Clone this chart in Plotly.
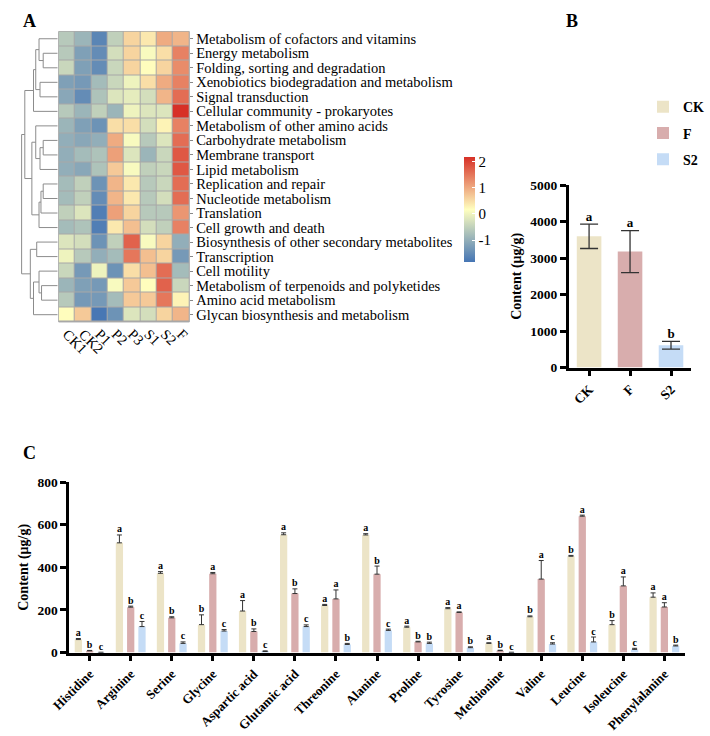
import plotly.graph_objects as go

W, H = 710, 736
SERIF = "Liberation Serif, Times New Roman, serif"

# ---------------- Panel A data ----------------
pathways = [
    "Metabolism of cofactors and vitamins",
    "Energy metabolism",
    "Folding, sorting and degradation",
    "Xenobiotics biodegradation and metabolism",
    "Signal transduction",
    "Cellular community - prokaryotes",
    "Metabolism of other amino acids",
    "Carbohydrate metabolism",
    "Membrane transport",
    "Lipid metabolism",
    "Replication and repair",
    "Nucleotide metabolism",
    "Translation",
    "Cell growth and death",
    "Biosynthesis of other secondary metabolites",
    "Transcription",
    "Cell motility",
    "Metabolism of terpenoids and polyketides",
    "Amino acid metabolism",
    "Glycan biosynthesis and metabolism",
]
samples = ["CK1", "CK2", "P1", "P2", "P3", "S1", "S2", "F"]
heat = [
    [-0.6, -0.9, -1.6, -0.5, 0.6, 0.4, 1.0, 0.9],
    [-0.6, -1.2, -1.5, -0.3, 0.6, 0.1, 0.5, 1.4],
    [-0.4, -1.2, -1.5, -0.4, 0.6, 0.2, 0.6, 1.3],
    [-1.2, -1.3, -0.8, -0.4, 0.0, 0.5, 1.0, 1.4],
    [-1.1, -1.5, -0.7, -0.2, -0.1, -0.3, 0.9, 1.6],
    [-0.6, -0.9, -0.5, -0.9, 0.0, -0.2, -0.2, 2.2],
    [-0.9, -1.2, -1.4, 0.5, 0.5, -0.3, 0.3, 1.4],
    [-1.0, -1.1, -1.0, 1.0, 0.1, -0.6, -0.2, 1.6],
    [-1.0, -0.8, -0.7, 1.1, -0.2, -0.9, -0.4, 1.8],
    [-1.0, -1.1, -0.7, 0.7, 0.1, -0.5, -0.4, 1.8],
    [-0.8, -0.5, -1.4, 0.9, 0.4, -0.6, -0.4, 1.6],
    [-0.8, -0.5, -1.5, 0.9, 0.4, -0.6, -0.3, 1.6],
    [-0.5, -0.2, -1.7, 1.1, 0.6, -0.6, -0.6, 1.2],
    [-0.8, -0.7, -1.7, 0.4, 0.8, -0.3, -0.5, 1.4],
    [-0.2, -0.3, -1.4, -0.5, 1.7, 0.1, 0.6, -1.0],
    [0.0, -0.6, -1.0, -0.8, 1.5, 0.8, 0.6, -1.3],
    [-0.4, -1.3, 0.0, -1.4, 0.5, 0.8, 1.6, -0.8],
    [-0.9, -1.2, -1.3, 0.1, 0.7, 0.2, 1.7, -0.4],
    [-0.6, -1.3, -1.3, -0.8, 0.7, 0.7, 1.5, 0.3],
    [0.2, 0.7, -1.8, -1.4, -0.2, -0.3, 0.6, 0.9],
]
colorbar_ticks = [-1, 0, 1, 2]
# row dendrogram: (child_a, child_b, merge height); nodes >= 20 are earlier merges
merges = [
    (1, 2, 15.0), (0, 20, 19.3), (3, 4, 18.3), (21, 22, 22.7), (23, 5, 25.0),
    (7, 8, 15.0), (25, 9, 18.3), (6, 26, 22.7), (10, 11, 15.0), (28, 12, 17.3),
    (29, 13, 19.3), (27, 30, 26.7), (24, 31, 34.0),
    (14, 15, 21.7), (17, 18, 16.7), (16, 34, 19.3), (35, 19, 25.0), (33, 36, 28.3),
    (32, 37, 37.3),
]

# ---------------- Panel B data ----------------
b_groups = ["CK", "F", "S2"]
b_mean = [3600, 3180, 610]
b_err = [335, 575, 105]
b_letters = ["a", "a", "b"]
b_ticks = [0, 1000, 2000, 3000, 4000, 5000]

# ---------------- Panel C data ----------------
amino = ["Histidine", "Arginine", "Serine", "Glycine", "Aspartic acid", "Glutamic acid",
         "Threonine", "Alanine", "Proline", "Tyrosine", "Methionine", "Valine",
         "Leucine", "Isoleucine", "Phenylalanine"]
ck_mean = [61, 515, 372, 131, 195, 553, 221, 552, 119, 206, 43, 168, 452, 131, 260]
ck_err = [5, 37, 8, 46, 49, 9, 5, 6, 5, 5, 3, 4, 4, 19, 20]
f_mean = [8, 213, 163, 370, 99, 277, 252, 368, 50, 188, 9, 345, 640, 313, 214]
f_err = [2, 5, 5, 6, 12, 22, 42, 38, 3, 3, 2, 87, 5, 42, 20]
s2_mean = [1, 122, 43, 101, 5, 122, 38, 104, 43, 23, 1, 40, 50, 15, 31]
s2_err = [0, 24, 7, 7, 3, 8, 5, 6, 6, 4, 0, 6, 23, 5, 4]
ck_let = ["a", "a", "a", "b", "a", "a", "a", "a", "a", "a", "a", "b", "b", "b", "a"]
f_let = ["b", "b", "b", "a", "b", "b", "a", "b", "b", "a", "b", "a", "a", "a", "a"]
s2_let = ["c", "c", "c", "c", "c", "c", "b", "c", "b", "b", "c", "c", "c", "c", "b"]
c_ticks = [0, 200, 400, 600, 800]

COL = {"CK": "#ece4c7", "F": "#d8adad", "S2": "#c5dcf6"}


def px_x(p):
    return p / W


def px_y(p):
    return 1 - p / H


def bold(s):
    return "<b>%s</b>" % s


fig = go.Figure()

# ---- heatmap ----
fig.add_trace(go.Heatmap(
    z=heat, x=samples, y=list(range(len(pathways))),
    xaxis="x", yaxis="y",
    colorscale=[[0, "#4575B4"], [0.5, "#FFFFBF"], [1, "#D73027"]],
    zmin=-1.83, zmax=2.19, xgap=1, ygap=1,
    colorbar=dict(x=px_x(460), xanchor="left", y=px_y(206.5), yanchor="middle",
                  len=107 / H, lenmode="fraction", thickness=11, outlinewidth=0,
                  xpad=0, ypad=0, tickmode="array", tickvals=colorbar_ticks,
                  ticktext=[str(t) for t in colorbar_ticks], ticks="inside",
                  tickcolor="white", ticklen=3,
                  tickfont=dict(family=SERIF, size=15, color="black")),
    hoverinfo="skip",
))

# ---- dendrogram ----
n = len(pathways)
pos = {i: float(i) for i in range(n)}
hgt = {i: 0.0 for i in range(n)}
dx, dy = [], []
for k, (a, b, h) in enumerate(merges):
    node = n + k
    dx += [hgt[a], h, h, hgt[b], None]
    dy += [pos[a], pos[a], pos[b], pos[b], None]
    pos[node] = (pos[a] + pos[b]) / 2
    hgt[node] = h
fig.add_trace(go.Scatter(x=dx, y=dy, xaxis="x2", yaxis="y", mode="lines",
                         line=dict(color="#8c8c8c", width=1), showlegend=False,
                         hoverinfo="skip"))

# ---- panel B ----
fig.add_trace(go.Bar(
    x=b_groups, y=b_mean, xaxis="x3", yaxis="y3", width=0.6,
    marker=dict(color=[COL[g] for g in b_groups], line=dict(width=0)),
    error_y=dict(type="data", array=b_err, color="#333333", thickness=1.3, width=9),
    showlegend=False, hoverinfo="skip",
))
fig.add_trace(go.Scatter(
    x=b_groups, y=[m + e for m, e in zip(b_mean, b_err)], xaxis="x3", yaxis="y3",
    mode="text", text=[bold(t) for t in b_letters], textposition="top center",
    textfont=dict(family=SERIF, size=13, color="black"),
    showlegend=False, hoverinfo="skip",
))

# ---- panel C ----
bw = 0.177
step = 0.275
series = [("CK", ck_mean, ck_err, ck_let, -step),
          ("F", f_mean, f_err, f_let, 0.0),
          ("S2", s2_mean, s2_err, s2_let, step)]
xs = list(range(len(amino)))
for name, mean, err, let, off in series:
    fig.add_trace(go.Bar(
        x=xs, y=mean, xaxis="x4", yaxis="y4", name=bold(name),
        offset=off - bw / 2, width=bw,
        marker=dict(color=COL[name], line=dict(width=0)),
        error_y=dict(type="data", symmetric=False, array=err,
                     arrayminus=[0] * len(err), color="#333333", thickness=1, width=2.5),
        legendgroup=name, showlegend=True, hoverinfo="skip",
    ))
for name, mean, err, let, off in series:
    fig.add_trace(go.Scatter(
        x=[x + off for x in xs], y=[m + e for m, e in zip(mean, err)],
        xaxis="x4", yaxis="y4", mode="text", text=[bold(t) for t in let],
        textposition="top center",
        textfont=dict(family=SERIF, size=10, color="black"),
        showlegend=False, hoverinfo="skip",
    ))

axis_common = dict(showline=True, linecolor="black", linewidth=2.5, ticks="outside",
                   tickcolor="black", tickwidth=2.5, ticklen=6, showgrid=False,
                   zeroline=False)

fig.update_layout(
    width=W, height=H, margin=dict(l=0, r=0, t=0, b=0),
    paper_bgcolor="white", plot_bgcolor="white",
    font=dict(family=SERIF, color="black"),
    xaxis=dict(domain=[px_x(41), px_x(176)], anchor="y", tickangle=45, ticks="",
               tickmode="array", tickvals=samples, ticktext=samples,
               tickfont=dict(family=SERIF, size=14.5), showgrid=False, zeroline=False,
               showline=False),
    yaxis=dict(domain=[px_y(321.5), px_y(25)], anchor="x", range=[n - 0.5, -0.5],
               side="right", tickmode="array", tickvals=list(range(n)), ticktext=pathways,
               ticks="outside", ticklen=3, tickcolor="#888888", tickwidth=1,
               tickfont=dict(family=SERIF, size=14.5), showgrid=False, zeroline=False),
    xaxis2=dict(domain=[0, px_x(40)], anchor="y", range=[40, 0], visible=False),
    xaxis3=dict(domain=[px_x(568), px_x(695)], anchor="y3", tickangle=-45,
                tickmode="array", tickvals=b_groups, ticktext=[bold(g) for g in b_groups],
                tickfont=dict(family=SERIF, size=13.5), **axis_common),
    yaxis3=dict(domain=[px_y(368), px_y(182)], anchor="x3", range=[0, 5000],
                tickmode="array", tickvals=b_ticks, ticktext=[bold(t) for t in b_ticks],
                tickfont=dict(family=SERIF, size=13.5),
                title=dict(text=bold("Content (μg/g)"), standoff=6,
                           font=dict(family=SERIF, size=14)),
                **axis_common),
    xaxis4=dict(domain=[px_x(51.8), px_x(688.2)], anchor="y4", range=[-0.5, len(amino) - 0.5],
                tickmode="array", tickvals=xs, ticktext=[bold(a) for a in amino],
                tickangle=-45, tickfont=dict(family=SERIF, size=13), **axis_common),
    yaxis4=dict(domain=[px_y(659), px_y(485)], anchor="x4", range=[0, 800],
                tickmode="array", tickvals=c_ticks, ticktext=[bold(t) for t in c_ticks],
                tickfont=dict(family=SERIF, size=13.5),
                title=dict(text=bold("Content (μg/g)"), standoff=6,
                           font=dict(family=SERIF, size=14)),
                **axis_common),
    legend=dict(x=px_x(645), y=px_y(86), xanchor="left", yanchor="top",
                font=dict(family=SERIF, size=14),
                tracegroupgap=5, bgcolor="rgba(0,0,0,0)"),
    shapes=[dict(type="rect", xref="x domain", yref="y domain", x0=0, x1=1, y0=0, y1=1,
                 fillcolor="#a8a8a8", line=dict(color="#a8a8a8", width=1), layer="below")],
    annotations=[
        dict(text=bold("A"), x=px_x(2), y=px_y(2), xref="paper", yref="paper",
             xanchor="left", yanchor="top", showarrow=False, font=dict(size=18, family=SERIF)),
        dict(text=bold("B"), x=px_x(563), y=px_y(2), xref="paper", yref="paper",
             xanchor="left", yanchor="top", showarrow=False, font=dict(size=18, family=SERIF)),
        dict(text=bold("C"), x=px_x(2), y=px_y(443), xref="paper", yref="paper",
             xanchor="left", yanchor="top", showarrow=False, font=dict(size=18, family=SERIF)),
    ],
)

fig.write_html("out.html")
